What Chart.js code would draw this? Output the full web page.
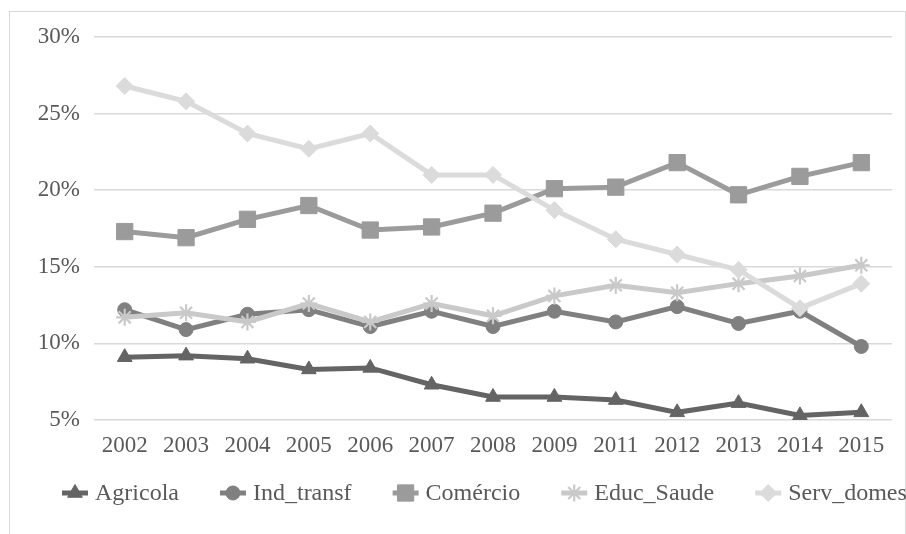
<!DOCTYPE html>
<html>
<head>
<meta charset="utf-8">
<script src="https://cdn.jsdelivr.net/npm/chart.js@4.4.1/dist/chart.umd.min.js"></script>
<style>
  html, body { margin: 0; padding: 0; background: #ffffff; }
  #wrap { width: 906px; height: 534px; position: relative; }
</style>
</head>
<body>
<div id="wrap"><canvas id="c" width="906" height="534"></canvas></div>
<script>
const categories = ['2002','2003','2004','2005','2006','2007','2008','2009','2011','2012','2013','2014','2015'];
const agricola   = [9.1, 9.2, 9.0, 8.3, 8.4, 7.3, 6.5, 6.5, 6.3, 5.5, 6.1, 5.3, 5.5];
const indTransf  = [12.2, 10.9, 11.9, 12.2, 11.1, 12.1, 11.1, 12.1, 11.4, 12.4, 11.3, 12.1, 9.8];
const comercio   = [17.3, 16.9, 18.1, 19.0, 17.4, 17.6, 18.5, 20.1, 20.2, 21.8, 19.7, 20.9, 21.8];
const educSaude  = [11.7, 12.0, 11.4, 12.6, 11.4, 12.6, 11.8, 13.1, 13.8, 13.3, 13.9, 14.4, 15.1];
const servDomes  = [26.8, 25.8, 23.7, 22.7, 23.7, 21.0, 21.0, 18.7, 16.8, 15.8, 14.8, 12.3, 13.9];
const seriesNames = ['Agricola', 'Ind_transf', 'Comércio', 'Educ_Saude', 'Serv_domes'];
const yTicks = [5, 10, 15, 20, 25, 30];

const FONT = "'Liberation Serif', 'Times New Roman', serif";
const colors = ['#646464', '#808080', '#9b9b9b', '#c9c9c9', '#dbdbdb'];
const styles = [
  { pointStyle: 'triangle', radius: 8.5, bw: 1 },
  { pointStyle: 'circle',   radius: 7,   bw: 1 },
  { pointStyle: 'rect',     radius: 11.5, bw: 1 },
  { pointStyle: 'star',     radius: 8.5, bw: 2.2 },
  { pointStyle: 'rectRot',  radius: 8.5, bw: 1 }
];
const values = [agricola, indTransf, comercio, educSaude, servDomes];

const datasets = values.map((v, i) => ({
  label: seriesNames[i],
  data: v,
  borderColor: colors[i],
  backgroundColor: colors[i],
  borderWidth: 5,
  pointStyle: styles[i].pointStyle,
  pointRadius: styles[i].radius,
  pointBorderWidth: styles[i].bw,
  pointBackgroundColor: colors[i],
  pointBorderColor: colors[i],
  tension: 0,
  order: 5 - i
}));

const frame = {
  id: 'frame',
  beforeDraw(chart) {
    const ctx = chart.ctx;
    ctx.save();
    ctx.fillStyle = '#ffffff';
    ctx.fillRect(0, 0, chart.width, chart.height);
    ctx.strokeStyle = '#d9d9d9';
    ctx.lineWidth = 1;
    ctx.strokeRect(9.5, 11.5, 896, 540);
    ctx.restore();
  }
};

const legendPlugin = {
  id: 'customLegend',
  afterDraw(chart) {
    const ctx = chart.ctx;
    const y = 493;
    let x = 62;
    const lineLen = 26, gapText = 7, gapItem = 41;
    ctx.save();
    ctx.font = '24px ' + FONT;
    ctx.textBaseline = 'middle';
    ctx.textAlign = 'left';
    chart.data.datasets.forEach((ds) => {
      ctx.strokeStyle = ds.borderColor;
      ctx.lineWidth = 5;
      ctx.beginPath();
      ctx.moveTo(x, y);
      ctx.lineTo(x + lineLen, y);
      ctx.stroke();
      ctx.fillStyle = ds.pointBackgroundColor;
      ctx.strokeStyle = ds.pointBorderColor;
      ctx.lineWidth = ds.pointBorderWidth;
      Chart.helpers.drawPoint(ctx, {
        pointStyle: ds.pointStyle,
        radius: ds.pointRadius,
        rotation: 0,
        borderWidth: ds.pointBorderWidth
      }, x + lineLen / 2, y);
      ctx.fillStyle = '#595959';
      const tx = x + lineLen + gapText;
      ctx.fillText(ds.label, tx, y + 1);
      x = tx + ctx.measureText(ds.label).width + gapItem;
    });
    ctx.restore();
  }
};

new Chart(document.getElementById('c'), {
  type: 'line',
  data: { labels: categories, datasets },
  plugins: [frame, legendPlugin],
  options: {
    responsive: false,
    animation: false,
    layout: { padding: { top: 37, right: 14, left: 0, bottom: 0 } },
    plugins: {
      legend: { display: false },
      tooltip: { enabled: false }
    },
    scales: {
      x: {
        offset: true,
        grid: { display: false, drawTicks: false },
        border: { display: false },
        ticks: {
          color: '#595959',
          font: { family: FONT, size: 23 },
          padding: 12,
          maxRotation: 0,
          autoSkip: false
        },
        afterFit(s) { s.height = 114; }
      },
      y: {
        min: 5,
        max: 30,
        afterBuildTicks(s) { s.ticks = yTicks.map(v => ({ value: v })); },
        grid: { color: '#d9d9d9', lineWidth: 1.5, drawTicks: false },
        border: { display: false },
        ticks: {
          color: '#595959',
          font: { family: FONT, size: 23 },
          padding: 14,
          callback: v => v + '%'
        },
        afterFit(s) { s.width = 94; }
      }
    }
  }
});
</script>
</body>
</html>
